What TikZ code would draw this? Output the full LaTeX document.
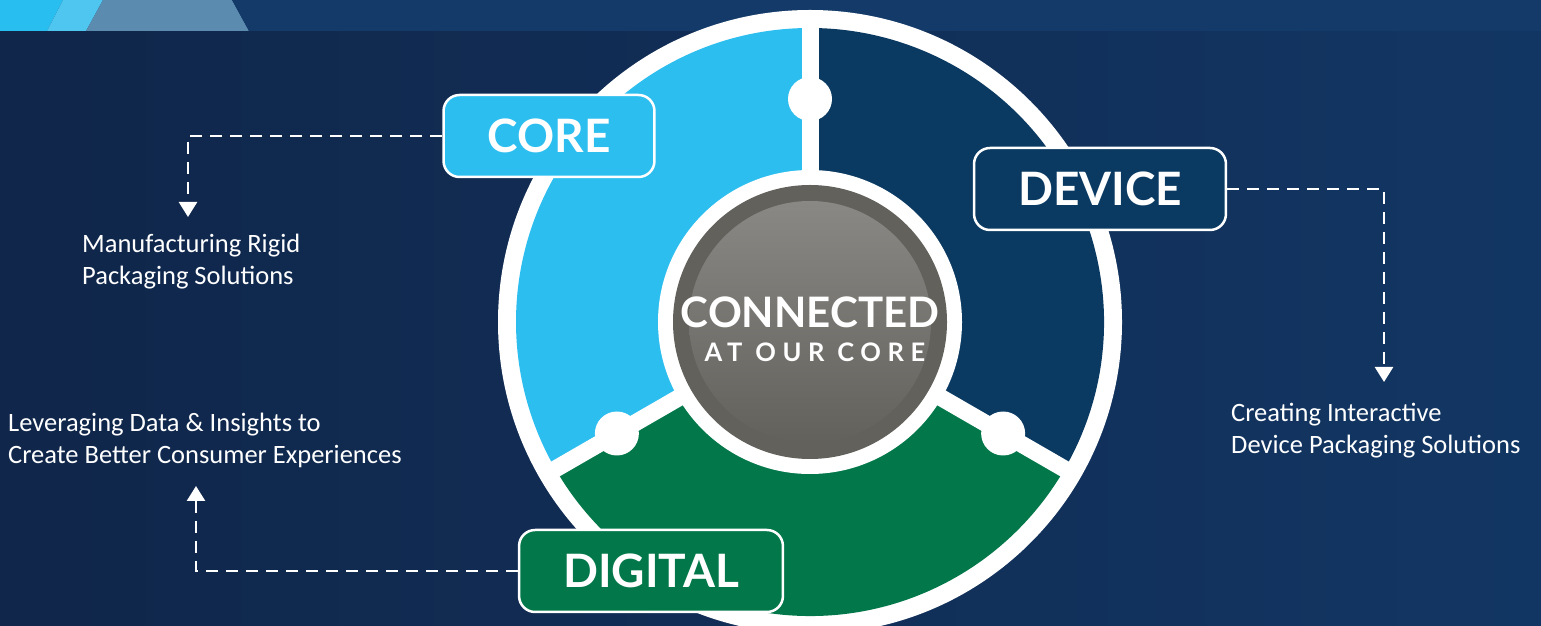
\documentclass[tikz,border=0pt]{standalone}
\usepackage{fontspec}
\setmainfont{Carlito}
\newfontfamily\lato{Lato}
\usetikzlibrary{arrows.meta}
\definecolor{bgleft}{HTML}{10264A}
\definecolor{bgright}{HTML}{123663}
\definecolor{bandsky}{HTML}{29BEF0}
\definecolor{bandpale}{HTML}{4EC6F0}
\definecolor{bandsteel}{HTML}{5B8CB0}
\definecolor{banddark}{HTML}{133A69}
\definecolor{coreblue}{HTML}{2DBEF0}
\definecolor{devblue}{HTML}{0A3A62}
\definecolor{diggreen}{HTML}{02784A}
\definecolor{hubgray}{HTML}{63615C}
\definecolor{hubtop}{HTML}{8A8884}

\begin{document}
\begin{tikzpicture}[x=1pt, y=1pt,
  tag/.style={draw=white, line width=2.5pt, rounded corners=16pt, minimum height=82pt, inner xsep=44pt, text=white, font=\lato\bfseries\fontsize{46}{46}\selectfont},
  note/.style={text=white, align=left, inner sep=0pt, anchor=base west, font=\fontsize{26.5}{32}\selectfont},
  lead/.style={white, line width=2.6pt, dash pattern=on 12pt off 8pt, -{Triangle[width=18pt, length=15pt]}}]
\useasboundingbox (0,0) rectangle (1541,626);
\clip (0,0) rectangle (1541,626);
\shade[left color=bgleft, right color=bgright] (0,0) rectangle (1541,626);

\fill[bandsky] (0,595) -- (47,595) -- (63,626) -- (0,626) -- cycle;
\fill[bandpale] (47,595) -- (86,595) -- (103,626) -- (63,626) -- cycle;
\fill[bandsteel] (86,595) -- (249,595) -- (232,626) -- (103,626) -- cycle;
\fill[banddark] (249,595) -- (1541,595) -- (1541,626) -- (232,626) -- cycle;

\coordinate (hub) at (810,304);
\fill[white] (hub) circle[radius=312];
\fill[coreblue] (hub) -- ++(90:294) arc[start angle=90, end angle=210, radius=294] -- cycle;
\fill[diggreen] (hub) -- ++(210:294) arc[start angle=210, end angle=330, radius=294] -- cycle;
\fill[devblue] (hub) -- ++(330:294) arc[start angle=-30, end angle=90, radius=294] -- cycle;
\foreach \a in {90,210,330} {
  \draw[white, line width=17pt] (hub) -- ++(\a:296);
  \fill[white] (hub) ++(\a:223) circle[radius=22];
}
\fill[white] (hub) circle[radius=152];
\fill[hubgray] (hub) circle[radius=137];
\shade[top color=hubtop, middle color=hubgray, bottom color=hubgray] (hub) circle[radius=121];
\node[anchor=base, inner sep=0pt, text=white, font=\lato\bfseries\fontsize{42}{42}\selectfont] (connected) at (810,298) {CONNECTED};
\node[anchor=base, inner sep=0pt, text=white, font=\lato\bfseries\fontsize{25.5}{25.5}\selectfont\addfontfeatures{LetterSpace=26}] (ourcore) at (815,264) {AT OUR CORE};

\node[tag, fill=coreblue] (core) at (549,490) {CORE};
\node[tag, fill=devblue] (device) at (1100,437) {DEVICE};
\node[tag, fill=diggreen] (digital) at (651,55) {DIGITAL};

\node[note] (coretext) at (82,341) {Manufacturing Rigid\\Packaging Solutions};
\node[note] (devtext) at (1231,172) {Creating Interactive\\Device Packaging Solutions};
\node[note] (digtext) at (8,162) {Leveraging Data \& Insights to\\Create Better Consumer Experiences};

\coordinate (coretip) at (188,409);
\coordinate (devtip) at (1384,244);
\coordinate (digtip) at (196,140);
\draw[lead] (core.west) -| (coretip);
\draw[lead] (device.east) -| (devtip);
\draw[lead] (digital.west) -| (digtip);
\end{tikzpicture}
\end{document}
